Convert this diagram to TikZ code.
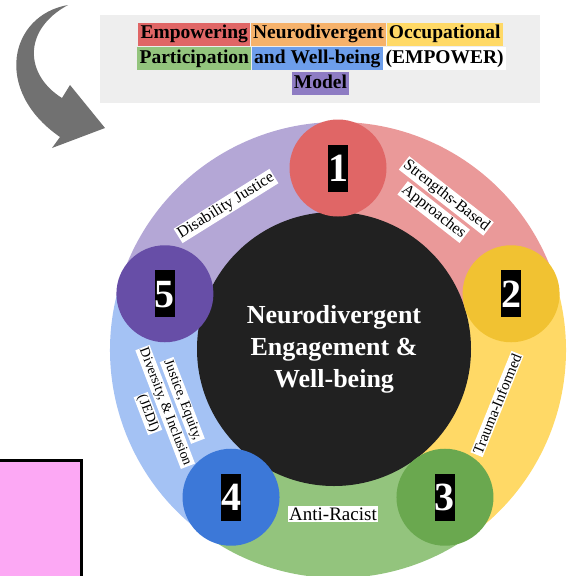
\documentclass[tikz,border=0pt]{standalone}
\usepackage{fontspec}
\setmainfont{Liberation Serif}
\usetikzlibrary{positioning}

\definecolor{titlegray}{HTML}{EEEEEE}
\definecolor{hlred}{HTML}{E06666}
\definecolor{hlorange}{HTML}{F6B26B}
\definecolor{hlyellow}{HTML}{FFD966}
\definecolor{hlgreen}{HTML}{93C47D}
\definecolor{hlblue}{HTML}{6D9EEB}
\definecolor{hlpurple}{HTML}{8E7CC3}
\definecolor{arrowgray}{HTML}{717171}
\definecolor{seg1}{HTML}{EA9999}
\definecolor{seg2}{HTML}{FFD966}
\definecolor{seg3}{HTML}{93C47D}
\definecolor{seg4}{HTML}{A4C2F4}
\definecolor{seg5}{HTML}{B4A7D6}
\definecolor{dot1}{HTML}{E06666}
\definecolor{dot2}{HTML}{F1C232}
\definecolor{dot3}{HTML}{6AA84F}
\definecolor{dot4}{HTML}{3C78D8}
\definecolor{dot5}{HTML}{674EA7}
\definecolor{coreblack}{HTML}{212121}
\definecolor{pinkbox}{HTML}{FCA8F4}

\newcommand{\wbox}[1]{\colorbox{white}{#1}}
\setlength{\fboxsep}{1.2pt}

\begin{document}
\begin{tikzpicture}[x=1pt,y=-1pt,
    word/.style={font=\fontsize{19.5}{23}\selectfont\bfseries, inner xsep=2.4pt, inner ysep=0pt,
        minimum height=23pt, text height=13.5pt, text depth=4.5pt, anchor=west},
    dot/.style={circle, minimum size=97pt, inner sep=0pt},
    num/.style={fill=black, text=white, font=\fontsize{40}{40}\selectfont\bfseries,
        inner sep=0pt, minimum height=47pt, text height=27pt, text depth=0pt},
    lab/.style={inner sep=0pt, align=center}
]
    \useasboundingbox (0,0) rectangle (572,576);

    % title
    \node[fill=titlegray, minimum width=440pt, minimum height=88pt, inner sep=0pt] (titlebox) at (320,59) {};
    \node[word, fill=hlred] (empowering) at (138,34) {Empowering};
    \node[word, fill=hlorange, right=0pt of empowering] (neurodivergent) {Neurodivergent};
    \node[word, fill=hlyellow, right=0pt of neurodivergent] (occupational) {Occupational};
    \node[word, fill=hlgreen] (participation) at (137,58.5) {Participation};
    \node[word, fill=hlblue, right=0pt of participation] (wellbeing) {and Well-being};
    \node[word, fill=white, right=0pt of wellbeing] (empower) {(EMPOWER)};
    \node[word, fill=hlpurple, anchor=center] (model) at (320.5,83.5) {Model};

    % curved arrow
    \fill[arrowgray] (68,5) .. controls (10,15) and (-8,90) .. (60,137) -- (52,148) -- (105,128)
        -- (70,85) -- (62,98) .. controls (25,75) and (22,30) .. (68,5) -- cycle;

    \draw[line width=3pt, fill=pinkbox] (-10,460) rectangle (81.5,600);

    % ring
    \coordinate (c) at (338,350);
    \foreach \a/\col in {-90/seg1, -18/seg2, 54/seg3, 126/seg4, 198/seg5}
        \fill[\col] (c) -- ++(\a:228) arc[start angle=\a, delta angle=72, radius=228] -- cycle;

    \node[circle, fill=coreblack, minimum size=274pt, inner sep=0pt, align=center, text=white,
        font=\fontsize{26}{32}\selectfont\bfseries] (core) at (334,349)
        {Neurodivergent\\Engagement \&\\Well-being};

    \foreach \i/\a in {1/-90, 2/-18, 3/54, 4/126, 5/198} {
        \node[dot, fill=dot\i] (n\i) at ([shift={(\a:182)}]c) {};
        \node[num] (num\i) at (n\i) {\i};
    }

    % labels on the ring
    \node[lab, font=\fontsize{16}{20.5}\selectfont, rotate=-38] (strengths) at (440,204)
        {\wbox{Strengths-Based}\\\wbox{Approaches}};
    \node[lab, font=\fontsize{15}{17}\selectfont, rotate=68] (trauma) at (497,404) {\wbox{Trauma-Informed}};
    \node[lab, font=\fontsize{19}{21}\selectfont] (antiracist) at (333,514) {\wbox{Anti-Racist}};
    \node[lab, font=\fontsize{14}{18.5}\selectfont, rotate=-69] (jedi) at (165,407)
        {\wbox{Justice, Equity,}\\\wbox{Diversity, \& Inclusion}\\\wbox{(JEDI)}};
    \node[lab, font=\fontsize{16}{18}\selectfont, rotate=32] (disability) at (226,206) {\wbox{Disability Justice}};
\end{tikzpicture}
\end{document}
